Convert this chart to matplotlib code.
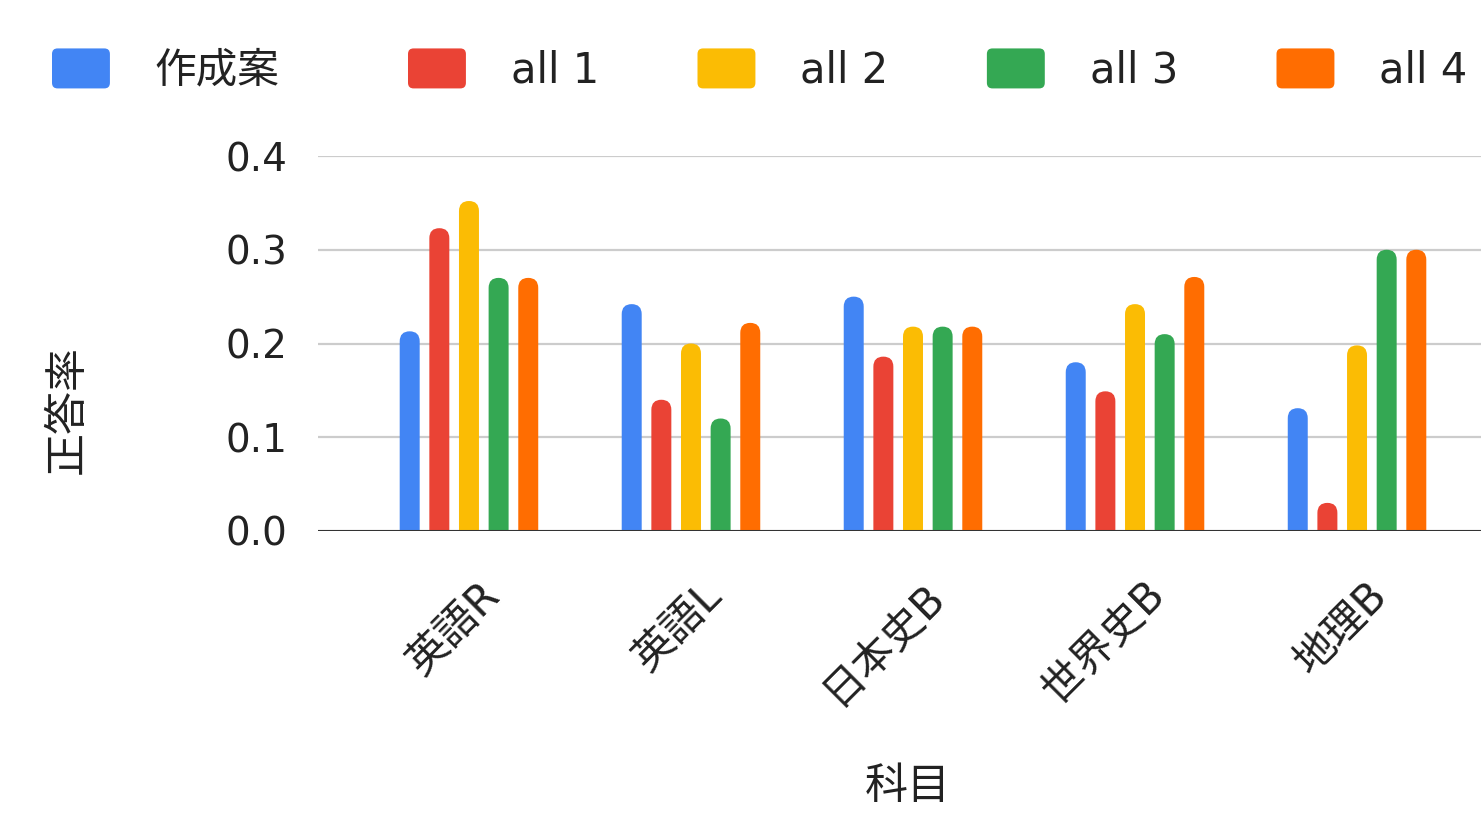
import matplotlib.pyplot as plt
from matplotlib.patches import FancyBboxPatch, Patch
from matplotlib.legend_handler import HandlerPatch
from matplotlib.transforms import ScaledTranslation

plt.rcParams['font.family'] = ['DejaVu Sans', 'Noto Sans CJK JP']

subjects = ["英語R", "英語L", "日本史B", "世界史B", "地理B"]
series = ["作成案", "all 1", "all 2", "all 3", "all 4"]
colors = ["#4285F4", "#EA4335", "#FBBC04", "#34A853", "#FF6D01"]

sakusei = [0.213, 0.242, 0.250, 0.180, 0.131]
all1 = [0.323, 0.140, 0.186, 0.149, 0.030]
all2 = [0.352, 0.200, 0.218, 0.242, 0.198]
all3 = [0.270, 0.120, 0.218, 0.210, 0.300]
all4 = [0.270, 0.222, 0.218, 0.271, 0.300]
values = [sakusei, all1, all2, all3, all4]

yticks = [0.0, 0.1, 0.2, 0.3, 0.4]

W, H = 1481, 827
fig = plt.figure(figsize=(W / 100, H / 100), dpi=100)
ax = fig.add_axes([318 / W, 1 - 531 / H, (1508 - 318) / W, (531 - 156) / H])

ax.set_xlim(-0.68, 4.68)
ax.set_ylim(0, 0.4)

# bar geometry in data units (approx 222 px per category, 937.5 px per 1.0)
bw = 0.09
step = 0.1335
rx = bw / 2
ry_ratio = (10 / 937.5) / rx

for j, vals in enumerate(values):
    for i, v in enumerate(vals):
        x0 = i + (j - 2) * step - bw / 2
        p = FancyBboxPatch((x0, -0.03), bw, v + 0.03,
                           boxstyle="round,pad=0,rounding_size=%f" % rx,
                           mutation_aspect=ry_ratio,
                           facecolor=colors[j], edgecolor="none", zorder=3)
        ax.add_patch(p)

ax.set_yticks(yticks)
ax.set_yticklabels(["%.1f" % t for t in yticks], fontsize=28, color="#222222")
ax.yaxis.grid(True, color="#cccccc", linewidth=1.6)
ax.set_axisbelow(True)
ax.axhline(0, color="#333333", linewidth=2.2, zorder=4)
ax.tick_params(axis="y", length=0, pad=22)

ax.set_xticks(range(len(subjects)))
ax.set_xticklabels(subjects, fontsize=30, rotation=45, ha="right", va="center",
                   rotation_mode="anchor", color="#222222")
ax.tick_params(axis="x", length=0, pad=0)
off = ScaledTranslation(24 / 100, -58 / 100, fig.dpi_scale_trans)
for lab in ax.get_xticklabels():
    lab.set_transform(lab.get_transform() + off)

for s in ax.spines.values():
    s.set_visible(False)

fig.text(908 / W, 1 - 787 / H, "科目", fontsize=31, ha="center", va="center",
         color="#222222")
fig.text(68 / W, 1 - 410 / H, "正答率", fontsize=31, ha="center", va="center",
         rotation=90, color="#222222")


def rounded_handle(legend, orig_handle, xdescent, ydescent, width, height, fontsize):
    return FancyBboxPatch((-xdescent, -ydescent), width, height,
                          boxstyle="round,pad=0,rounding_size=4")


handles = [Patch(facecolor=c, edgecolor="none") for c in colors]
leg_kw = dict(loc="center left", frameon=False, fontsize=30, handlelength=1.39,
              handleheight=1.1, handletextpad=1.08, columnspacing=2.36,
              borderpad=0, borderaxespad=0, labelcolor="#222222",
              handler_map={Patch: HandlerPatch(patch_func=rounded_handle)})
# the first entry is wider in the original, so it gets its own legend
fig.legend(handles[:1], series[:1], bbox_to_anchor=(52 / W, 1 - 70 / H), ncol=1, **leg_kw)
fig.legend(handles[1:], series[1:], bbox_to_anchor=(408 / W, 1 - 70 / H), ncol=4, **leg_kw)

fig.savefig("out.png", dpi=100, facecolor="white")
